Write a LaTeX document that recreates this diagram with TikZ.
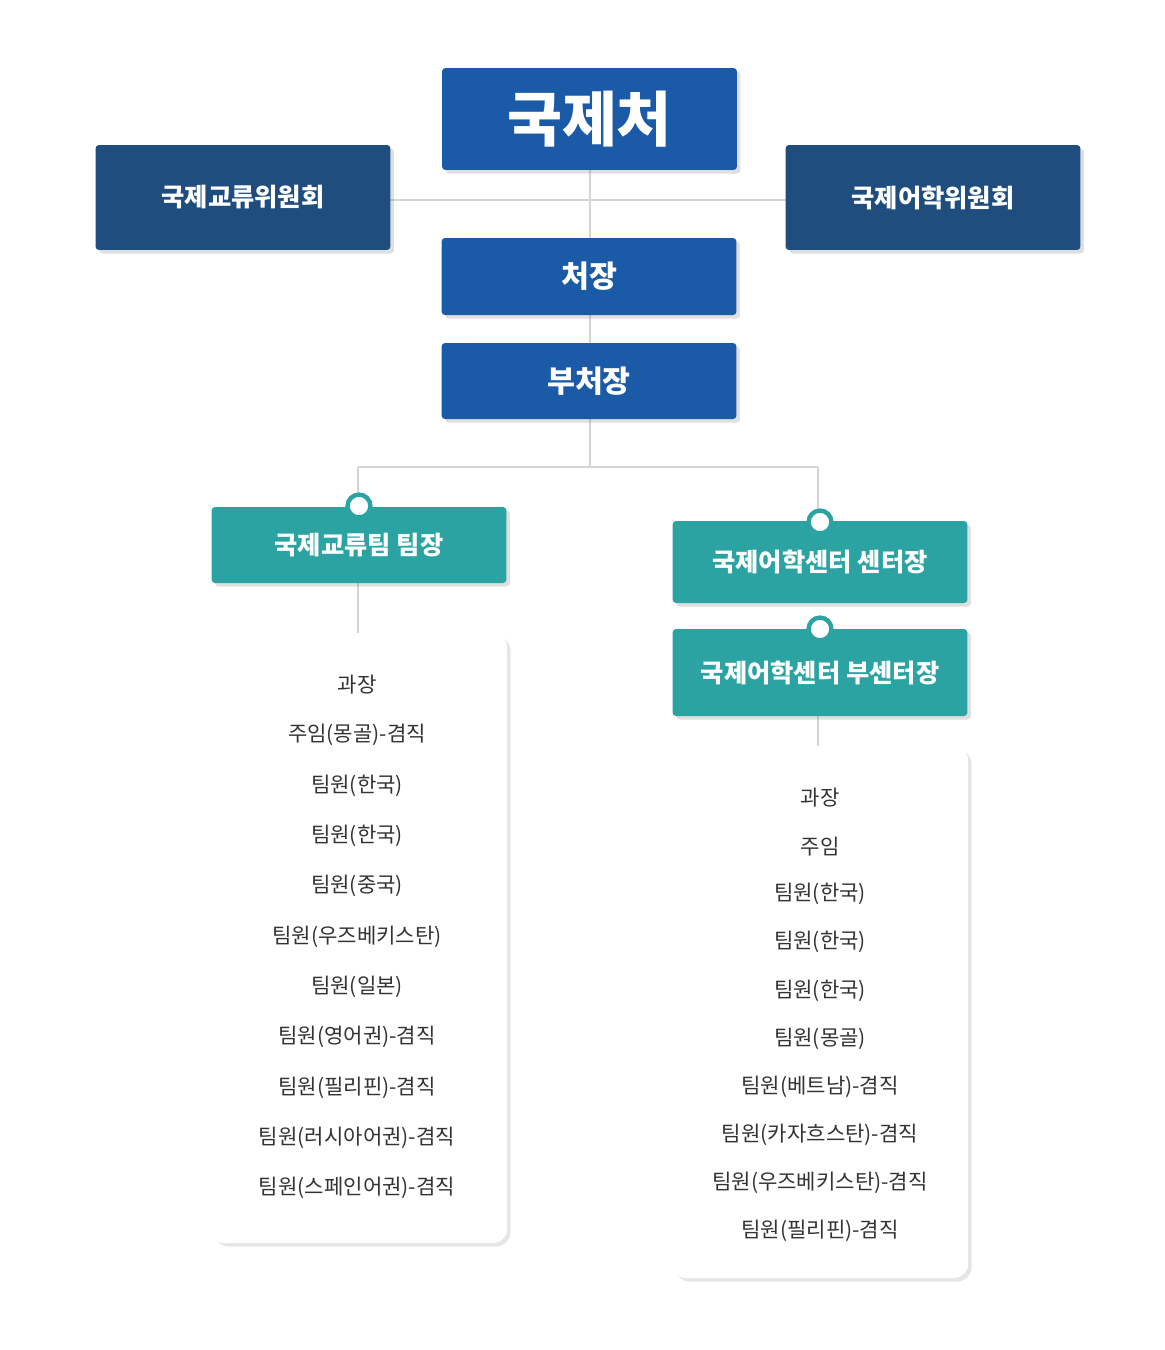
\documentclass[tikz,border=0pt]{standalone}
\usepackage{fontspec}
\setmainfont{Noto Sans CJK KR}
\usetikzlibrary{shadows}
\definecolor{headblue}{HTML}{1B5AA6}
\definecolor{navy}{HTML}{1F4D7E}
\definecolor{teal}{HTML}{2BA3A3}
\definecolor{linegray}{HTML}{D4D4D4}
\definecolor{listtext}{HTML}{333333}
\begin{document}
\begin{tikzpicture}[x=0.02cm,y=-0.02cm,
  box/.style={
      draw=none,
      rounded corners=2pt,
      minimum width=5.9cm,
      text=white,
      font=\bfseries,
      drop shadow={opacity=0.25,shadow xshift=2pt,shadow yshift=-2pt}
    },
  head/.style={box, fill=headblue},
  board/.style={box, fill=navy, minimum height=2.1cm, font=\bfseries\Large},
  team/.style={box, fill=teal, font=\bfseries\Large},
  panel/.style={
      fill=white,
      rounded corners=8pt,
      drop shadow={opacity=0.2,shadow xshift=2pt,shadow yshift=-2pt}
    },
  link/.style={
      draw=linegray,
      line width=1.2pt
    },
  pin/.style={
      circle,
      fill=white,
      draw=teal,
      line width=2.5pt,
      inner sep=0pt,
      minimum size=13pt
    },
  item/.style={
      text=listtext,
      font=\large
    }]
  \useasboundingbox (0,0) rectangle (1165,1350);

  % links
  \coordinate (bl) at (390,200);
  \coordinate (br) at (786,200);
  \coordinate (fork) at (590,467);
  \coordinate (fl) at (358,467);
  \coordinate (fr) at (818,467);
  \draw [link] (bl) -- (br);
  \draw [link] (590,170) -- (fork);
  \draw [link] (fl) -- (fr);
  \draw [link] (fl) -- (358,505);
  \draw [link] (fr) -- (818,521);
  \draw [link] (358,583) -- (358,633);
  \draw [link] (818,716) -- (818,746);

  % top
  \node [head, minimum height=2.04cm, font=\bfseries\fontsize{34}{40}\selectfont] (dept) at (589.5,119) {국제처};
  \node [board] (bexch) at (243,197.5) {국제교류위원회};
  \node [board] (blang) at (933,197.5) {국제어학위원회};
  \node [head, minimum height=1.54cm, font=\bfseries\LARGE] (dir) at (589,276.5) {처장};
  \node [head, minimum height=1.52cm, font=\bfseries\LARGE] (vdir) at (589,381) {부처장};

  % teams
  \node [team, minimum height=1.52cm] (texch) at (359,545) {국제교류팀 팀장};
  \node [team, minimum height=1.64cm] (tlang) at (820,562) {국제어학센터 센터장};
  \node [team, minimum height=1.74cm] (tvlang) at (820,672.5) {국제어학센터 부센터장};
  \node [pin] (p1) at (359,506) {};
  \node [pin] (p2) at (820,522) {};
  \node [pin] (p3) at (820,629) {};

  % staff lists
  \fill [panel] (211,633) rectangle (507,1243);
  \fill [panel] (672,746) rectangle (968,1278);
  \foreach \t [count=\i from 0] in {과장, 주임(몽골)-겸직, 팀원(한국), 팀원(한국), 팀원(중국),
      팀원(우즈베키스탄), 팀원(일본), 팀원(영어권)-겸직, 팀원(필리핀)-겸직,
      팀원(러시아어권)-겸직, 팀원(스페인어권)-겸직}
    \node [item] (l\i) at (357,{685+50.3*\i}) {\t};
  \foreach \t [count=\i from 0] in {과장, 주임, 팀원(한국), 팀원(한국), 팀원(한국),
      팀원(몽골), 팀원(베트남)-겸직, 팀원(카자흐스탄)-겸직,
      팀원(우즈베키스탄)-겸직, 팀원(필리핀)-겸직}
    \node [item] (r\i) at (820,{798+48.1*\i}) {\t};
\end{tikzpicture}
\end{document}
